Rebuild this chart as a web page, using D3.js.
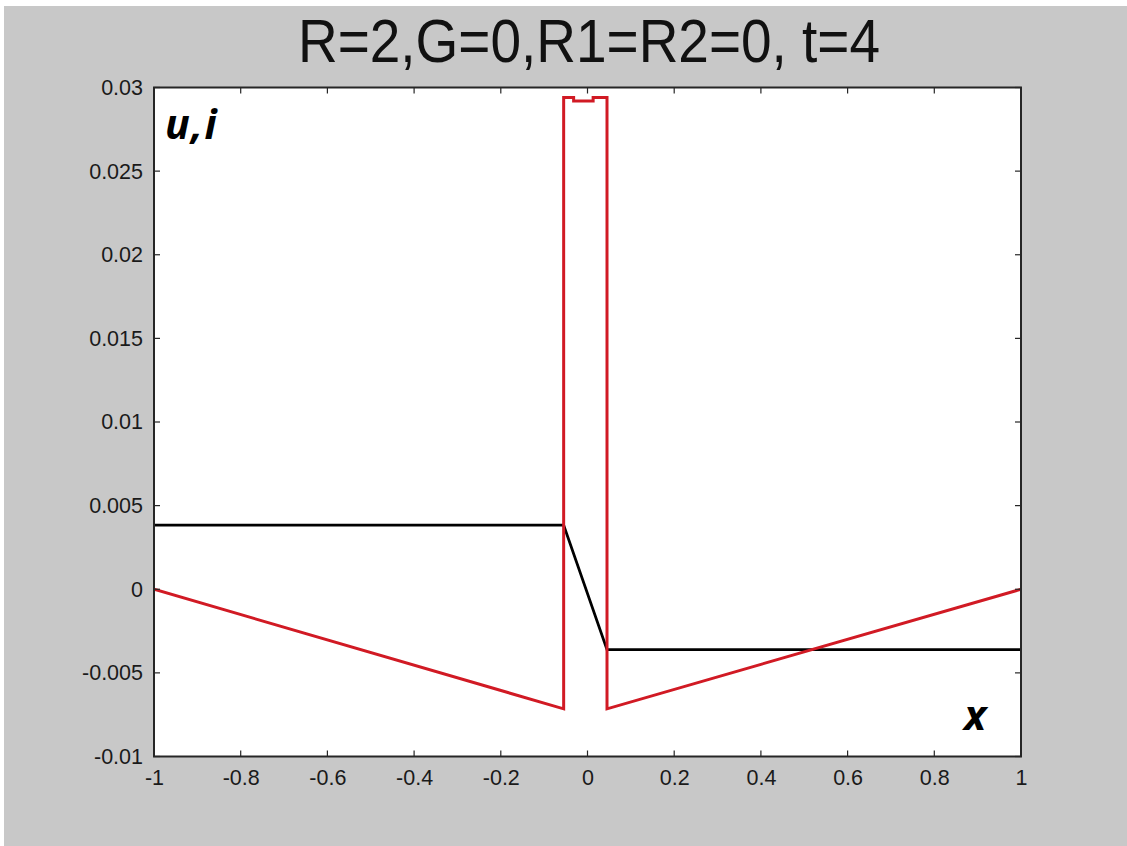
<!DOCTYPE html>
<html>
<head>
<meta charset="utf-8">
<script src="https://cdn.jsdelivr.net/npm/d3@7"></script>
<style>
  html, body { margin: 0; padding: 0; background: #ffffff; }
  svg { display: block; }
</style>
</head>
<body>
<script>
// Current profile i(x) (red) and voltage u(x) (black) at t = 4
const redX   = [-1, -0.055, -0.055, -0.032, -0.032, 0.013, 0.013, 0.045, 0.045, 1];
const redY   = [0, -0.00715, 0.0294, 0.0294, 0.0292, 0.0292, 0.0294, 0.0294, -0.00715, 0];
const blackX = [-1, -0.055, 0.045, 1];
const blackY = [0.00384, 0.00384, -0.00361, -0.00361];

const xTicks = [-1, -0.8, -0.6, -0.4, -0.2, 0, 0.2, 0.4, 0.6, 0.8, 1];
const yTicks = [-0.01, -0.005, 0, 0.005, 0.01, 0.015, 0.02, 0.025, 0.03];
const xTickLabels = ["-1", "-0.8", "-0.6", "-0.4", "-0.2", "0", "0.2", "0.4", "0.6", "0.8", "1"];
const yTickLabels = ["-0.01", "-0.005", "0", "0.005", "0.01", "0.015", "0.02", "0.025", "0.03"];

const titleText = "R=2,G=0,R1=R2=0, t=4";

const W = 1127, H = 846;
const plot = { left: 154, right: 1021, top: 87.5, bottom: 756.5 };

const svg = d3.select("body").append("svg")
  .attr("width", W).attr("height", H);

// figure background
svg.append("rect").attr("x", 4).attr("y", 6).attr("width", W - 4).attr("height", H - 6)
  .attr("fill", "#c8c8c8");

const x = d3.scaleLinear().domain([-1, 1]).range([plot.left, plot.right]);
const y = d3.scaleLinear().domain([-0.01, 0.03]).range([plot.bottom, plot.top]);

// axes area
svg.append("rect")
  .attr("x", plot.left).attr("y", plot.top)
  .attr("width", plot.right - plot.left).attr("height", plot.bottom - plot.top)
  .attr("fill", "#ffffff");

svg.append("clipPath").attr("id", "plotclip")
  .append("rect")
  .attr("x", plot.left).attr("y", plot.top - 2)
  .attr("width", plot.right - plot.left).attr("height", plot.bottom - plot.top + 4);

const line = d3.line().x(d => x(d[0])).y(d => y(d[1]));

const g = svg.append("g").attr("clip-path", "url(#plotclip)");

g.append("path")
  .datum(blackX.map((v, i) => [v, blackY[i]]))
  .attr("d", line)
  .attr("fill", "none").attr("stroke", "#000000").attr("stroke-width", 2.8)
  .attr("stroke-linejoin", "miter");

g.append("path")
  .datum(redX.map((v, i) => [v, redY[i]]))
  .attr("d", line)
  .attr("fill", "none").attr("stroke", "#d11a24").attr("stroke-width", 3)
  .attr("stroke-linejoin", "miter");

// axes with inward ticks on all four sides
const tickLen = 6;
const fontTick = "Liberation Sans, Arial, sans-serif";

const axBottom = d3.axisBottom(x).tickValues(xTicks).tickSize(0).tickPadding(13)
  .tickFormat((d, i) => xTickLabels[i]);
const axLeft = d3.axisLeft(y).tickValues(yTicks).tickSize(0).tickPadding(11)
  .tickFormat((d, i) => yTickLabels[i]);

const gb = svg.append("g").attr("transform", `translate(0,${plot.bottom})`).call(axBottom);
const gl = svg.append("g").attr("transform", `translate(${plot.left},0)`).call(axLeft);
[gb, gl].forEach(a => {
  a.select(".domain").remove();
  a.selectAll("text")
    .attr("font-family", fontTick).attr("font-size", 21.5).attr("fill", "#1a1a1a");
});
gb.selectAll("text").attr("dy", "0.71em");

const tickG = svg.append("g").attr("stroke", "#262626").attr("stroke-width", 1.2);
xTicks.forEach(v => {
  tickG.append("line").attr("x1", x(v)).attr("x2", x(v))
    .attr("y1", plot.bottom).attr("y2", plot.bottom - tickLen);
  tickG.append("line").attr("x1", x(v)).attr("x2", x(v))
    .attr("y1", plot.top).attr("y2", plot.top + tickLen);
});
yTicks.forEach(v => {
  tickG.append("line").attr("x1", plot.left).attr("x2", plot.left + tickLen)
    .attr("y1", y(v)).attr("y2", y(v));
  tickG.append("line").attr("x1", plot.right).attr("x2", plot.right - tickLen)
    .attr("y1", y(v)).attr("y2", y(v));
});

// axes box
svg.append("rect")
  .attr("x", plot.left).attr("y", plot.top)
  .attr("width", plot.right - plot.left).attr("height", plot.bottom - plot.top)
  .attr("fill", "none").attr("stroke", "#262626").attr("stroke-width", 2);

// title
svg.append("text")
  .attr("x", 589).attr("y", 62)
  .attr("text-anchor", "middle")
  .attr("font-family", "Liberation Sans, Arial, sans-serif")
  .attr("font-size", 61)
  .attr("textLength", 582).attr("lengthAdjust", "spacingAndGlyphs")
  .attr("fill", "#111111")
  .text(titleText);

// axis annotations
svg.append("text")
  .attr("x", 165).attr("y", 139)
  .attr("font-family", "Open Sans, DejaVu Sans, sans-serif")
  .attr("font-weight", "bold").attr("font-style", "italic")
  .attr("font-size", 41).attr("letter-spacing", 1.5).attr("fill", "#000")
  .text("u,i");

svg.append("text")
  .attr("x", 964).attr("y", 730)
  .attr("font-family", "Open Sans, DejaVu Sans, sans-serif")
  .attr("font-weight", "bold").attr("font-style", "italic")
  .attr("font-size", 42).attr("fill", "#000")
  .text("x");
</script>
</body>
</html>
